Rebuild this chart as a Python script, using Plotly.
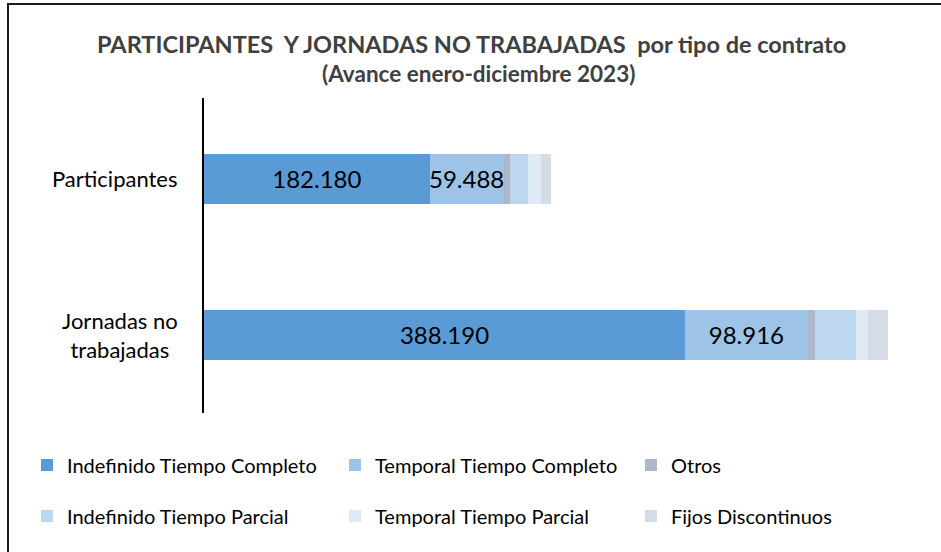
import plotly.graph_objects as go

categories = ["Participantes", "Jornadas no trabajadas"]
category_labels = ["Participantes", "Jornadas no<br>trabajadas"]
series_names = ["Indefinido Tiempo Completo", "Temporal Tiempo Completo", "Otros",
                "Indefinido Tiempo Parcial", "Temporal Tiempo Parcial", "Fijos Discontinuos"]
indef_completo = [182180, 388190]
temp_completo = [59488, 98916]
otros = [5000, 6200]
indef_parcial = [15100, 33100]
temp_parcial = [9950, 9700]
fijos_disc = [8100, 15600]
values = [indef_completo, temp_completo, otros, indef_parcial, temp_parcial, fijos_disc]
colors = ["#5B9BD5", "#9DC3E6", "#ADB9CA", "#BDD7EE", "#DEEBF7", "#D6DCE5"]
labelled = [True, True, False, False, False, False]

W, H = 941, 552
L, R, T, B = 204, 43, 98, 139
pw, ph = W - L - R, H - T - B

def px_x(p):
    return (p - L) / pw

def px_y(p):
    return (H - B - p) / ph

FONT = "Lato"
legend_pos = [(27, 465), (335, 465), (631, 465), (27, 516), (335, 516), (631, 516)]
legend_ids = ["legend", "legend2", "legend3", "legend4", "legend5", "legend6"]

fig = go.Figure()
for i, (name, vals, col) in enumerate(zip(series_names, values, colors)):
    fig.add_trace(go.Bar(
        y=categories, x=vals, name=name, orientation="h",
        marker=dict(color=col, line=dict(width=0)),
        texttemplate="%{x:,.0f}" if labelled[i] else None,
        textposition="inside" if labelled[i] else "none",
        insidetextanchor="middle",
        constraintext="none",
        cliponaxis=False,
        textfont=dict(family=FONT, size=24, color="#000000"),
        width=0.32,
        legend=legend_ids[i],
        hoverinfo="skip",
    ))

layout_legends = {}
for lid, (lx, ly) in zip(legend_ids, legend_pos):
    layout_legends[lid] = dict(orientation="h", x=px_x(lx), xanchor="left", y=px_y(ly),
                               yanchor="middle", bgcolor="rgba(0,0,0,0)",
                               font=dict(family=FONT, size=20, color="#000000"),
                               itemclick=False)

fig.update_layout(
    width=W, height=H,
    barmode="stack",
    separators=",.",
    plot_bgcolor="white", paper_bgcolor="white",
    margin=dict(l=L, r=R, t=T, b=B, autoexpand=False),
    font=dict(family=FONT, color="#000000"),
    xaxis=dict(range=[0, 560000], showticklabels=False, showgrid=False,
               zeroline=False, showline=False, ticks=""),
    yaxis=dict(range=[1.5, -0.519], showline=True, linecolor="#000000",
               linewidth=2, ticks="", showticklabels=False),
    showlegend=True,
    **layout_legends,
)

for cat, lab in zip(categories, category_labels):
    fig.add_annotation(text=lab, xref="paper", yref="y", x=px_x(180), y=cat,
                       showarrow=False, xanchor="right", yanchor="middle", align="center",
                       font=dict(family=FONT, size=22, color="#000000"))

fig.add_annotation(text="<b>PARTICIPANTES  Y JORNADAS NO TRABAJADAS  por tipo de contrato</b>",
                   xref="paper", yref="paper", x=px_x(471), y=px_y(44), showarrow=False,
                   xanchor="center", yanchor="middle",
                   font=dict(family=FONT, size=23.5, color="#404040"))
fig.add_annotation(text="<b>(Avance enero-diciembre 2023)</b>",
                   xref="paper", yref="paper", x=px_x(478), y=px_y(73), showarrow=False,
                   xanchor="center", yanchor="middle",
                   font=dict(family=FONT, size=22.5, color="#404040"))

fig.add_shape(type="rect", xref="paper", yref="paper",
              x0=px_x(8), x1=px_x(950), y0=px_y(4), y1=px_y(560),
              line=dict(color="#1a1a1a", width=2), fillcolor="rgba(0,0,0,0)", layer="below")

fig.write_html("out.html", config={"displayModeBar": False},
               post_script="document.body.style.margin='0';document.body.style.overflow='hidden';")
